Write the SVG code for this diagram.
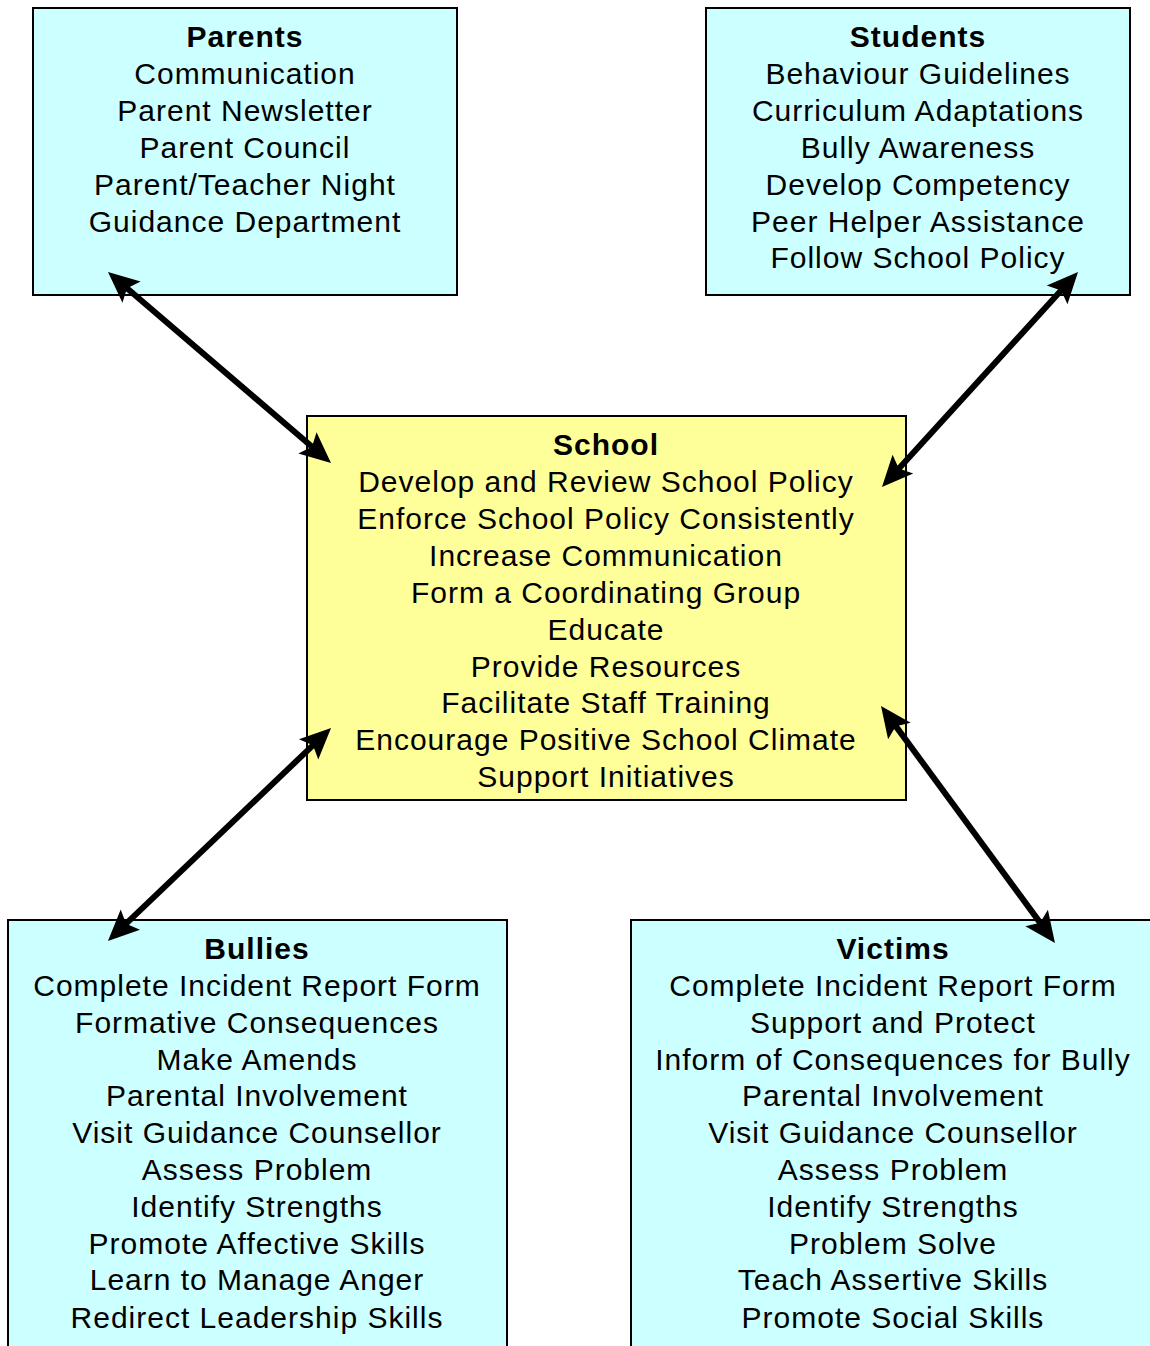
<svg xmlns="http://www.w3.org/2000/svg" width="1150" height="1346" viewBox="0 0 1150 1346">
<style>
.box{stroke:#000;stroke-width:2}
.cyan{fill:#CCFFFF}
.yellow{fill:#FFFF99}
text{font-family:"Liberation Sans",Arial,sans-serif;font-size:30px;letter-spacing:1px;fill:#000;text-anchor:middle}
.t{font-weight:bold}
.conn{stroke:#000;stroke-width:6;fill:none}
</style>
<defs>
<marker id="ah" markerUnits="userSpaceOnUse" markerWidth="32" markerHeight="30" viewBox="0 0 32 30" refX="16" refY="15" orient="auto-start-reverse">
<path d="M0,1 L31,15 L0,29 L6,15 Z" fill="#000"/>
</marker>
</defs>
<rect width="1150" height="1346" fill="#fff"/>
<g id="parents">
<rect class="box cyan" x="33" y="8" width="424" height="287"/>
<text x="245" y="47" class="t">Parents</text>
<text x="245" y="84">Communication</text>
<text x="245" y="121">Parent Newsletter</text>
<text x="245" y="158">Parent Council</text>
<text x="245" y="195">Parent/Teacher Night</text>
<text x="245" y="232">Guidance Department</text>
</g>
<g id="students">
<rect class="box cyan" x="706" y="8" width="424" height="287"/>
<text x="918" y="47" class="t">Students</text>
<text x="918" y="84">Behaviour Guidelines</text>
<text x="918" y="121">Curriculum Adaptations</text>
<text x="918" y="158">Bully Awareness</text>
<text x="918" y="195">Develop Competency</text>
<text x="918" y="232">Peer Helper Assistance</text>
<text x="918" y="268">Follow School Policy</text>
</g>
<g id="school">
<rect class="box yellow" x="307" y="416" width="599" height="384"/>
<text x="606" y="455" class="t">School</text>
<text x="606" y="492">Develop and Review School Policy</text>
<text x="606" y="529">Enforce School Policy Consistently</text>
<text x="606" y="566">Increase Communication</text>
<text x="606" y="603">Form a Coordinating Group</text>
<text x="606" y="640">Educate</text>
<text x="606" y="677">Provide Resources</text>
<text x="606" y="713">Facilitate Staff Training</text>
<text x="606" y="750">Encourage Positive School Climate</text>
<text x="606" y="787">Support Initiatives</text>
</g>
<g id="bullies">
<rect class="box cyan" x="8" y="920" width="499" height="440"/>
<text x="257" y="959" class="t">Bullies</text>
<text x="257" y="996">Complete Incident Report Form</text>
<text x="257" y="1033">Formative Consequences</text>
<text x="257" y="1070">Make Amends</text>
<text x="257" y="1106">Parental Involvement</text>
<text x="257" y="1143">Visit Guidance Counsellor</text>
<text x="257" y="1180">Assess Problem</text>
<text x="257" y="1217">Identify Strengths</text>
<text x="257" y="1254">Promote Affective Skills</text>
<text x="257" y="1290">Learn to Manage Anger</text>
<text x="257" y="1328">Redirect Leadership Skills</text>
</g>
<g id="victims">
<rect class="box cyan" x="631" y="920" width="540" height="440"/>
<text x="893" y="959" class="t">Victims</text>
<text x="893" y="996">Complete Incident Report Form</text>
<text x="893" y="1033">Support and Protect</text>
<text x="893" y="1070">Inform of Consequences for Bully</text>
<text x="893" y="1106">Parental Involvement</text>
<text x="893" y="1143">Visit Guidance Counsellor</text>
<text x="893" y="1180">Assess Problem</text>
<text x="893" y="1217">Identify Strengths</text>
<text x="893" y="1254">Problem Solve</text>
<text x="893" y="1290">Teach Assertive Skills</text>
<text x="893" y="1328">Promote Social Skills</text>
</g>
<g id="connectors">
<path class="conn" d="M119.4,281.8 L319.6,453.2" marker-start="url(#ah)" marker-end="url(#ah)"/>
<path class="conn" d="M1067.9,283.1 L892.1,475.9" marker-start="url(#ah)" marker-end="url(#ah)"/>
<path class="conn" d="M320.2,738.4 L118.8,930.6" marker-start="url(#ah)" marker-end="url(#ah)"/>
<path class="conn" d="M889.9,718.1 L1046.1,930.9" marker-start="url(#ah)" marker-end="url(#ah)"/>
</g>
</svg>
